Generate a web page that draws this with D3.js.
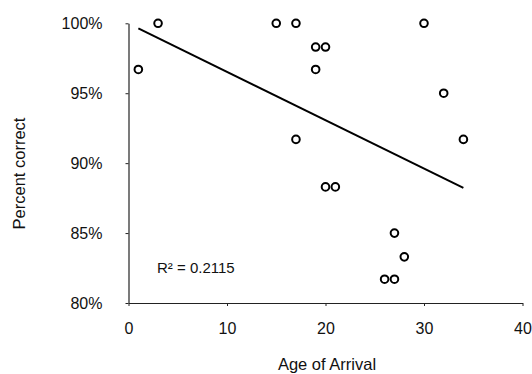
<!DOCTYPE html>
<html>
<head>
<meta charset="utf-8">
<script src="https://cdn.jsdelivr.net/npm/d3@7"></script>
<style>
  body { margin: 0; background: #fff; }
  text { font-family: "Liberation Sans", Arial, sans-serif; fill: #111; }
</style>
</head>
<body>
<svg></svg>
<script>
// age of arrival vs percent correct
var ages = [1, 3, 15, 17, 19, 20, 19, 30, 32, 34, 17, 20, 21, 27, 28, 26, 27];
var percents = [96.7, 100, 100, 100, 98.3, 98.3, 96.7, 100, 95, 91.7, 91.7, 88.3, 88.3, 85, 83.3, 81.7, 81.7];
var xTicks = [0, 10, 20, 30, 40];
var yTicks = [80, 85, 90, 95, 100];
var rSquared = "0.2115";

var svgWidth = 532,
    svgHeight = 374;

var svg = d3.select('svg')
    .attr("width", svgWidth)
    .attr("height", svgHeight);

var xScale = d3.scaleLinear()
    .domain([0, 40])
    .range([128.5, 522.5]);

var yScale = d3.scaleLinear()
    .domain([80, 100])
    .range([303, 23.3]);

// axes
svg.append("g")
    .attr("transform", "translate(0," + yScale(80) + ")")
    .call(d3.axisBottom(xScale).tickValues(xTicks).tickSizeInner(3).tickSizeOuter(0).tickPadding(16.5));

svg.append("g")
    .attr("transform", "translate(" + xScale(0) + ",0)")
    .call(d3.axisLeft(yScale).tickValues(yTicks).tickSizeInner(3).tickSizeOuter(0).tickPadding(23)
        .tickFormat(function(d) { return d + "%"; }));

svg.selectAll(".domain").attr("stroke", "#222").attr("stroke-width", 1.2);
svg.selectAll(".tick line").attr("stroke", "#222");
svg.selectAll(".tick text")
    .attr("font-size", 16)
    .attr("font-family", "Liberation Sans, Arial, sans-serif")
    .attr("fill", "#111");

// trend line (least squares)
var mx = d3.mean(ages), my = d3.mean(percents);
var sxy = d3.sum(ages, function(d, i) { return (d - mx) * (percents[i] - my); });
var sxx = d3.sum(ages, function(d) { return (d - mx) * (d - mx); });
var slope = sxy / sxx, intercept = my - slope * mx;
var xExt = d3.extent(ages);

svg.append("line")
    .attr("x1", xScale(xExt[0]))
    .attr("y1", yScale(intercept + slope * xExt[0]))
    .attr("x2", xScale(xExt[1]))
    .attr("y2", yScale(intercept + slope * xExt[1]))
    .attr("stroke", "#000")
    .attr("stroke-width", 2);

svg.selectAll("circle")
    .data(ages)
    .enter()
    .append("circle")
    .attr("cx", function(d) { return xScale(d); })
    .attr("cy", function(d, i) { return yScale(percents[i]); })
    .attr("r", 3.8)
    .attr("fill", "none")
    .attr("stroke", "#000")
    .attr("stroke-width", 2);

svg.append("text")
    .attr("x", 157)
    .attr("y", 273)
    .attr("font-size", 15)
    .text("R² = " + rSquared);

svg.append("text")
    .attr("x", 327)
    .attr("y", 369.5)
    .attr("text-anchor", "middle")
    .attr("font-size", 16.5)
    .text("Age of Arrival");

svg.append("text")
    .attr("transform", "translate(25,173.5) rotate(-90)")
    .attr("text-anchor", "middle")
    .attr("font-size", 16.5)
    .text("Percent correct");
</script>
</body>
</html>
